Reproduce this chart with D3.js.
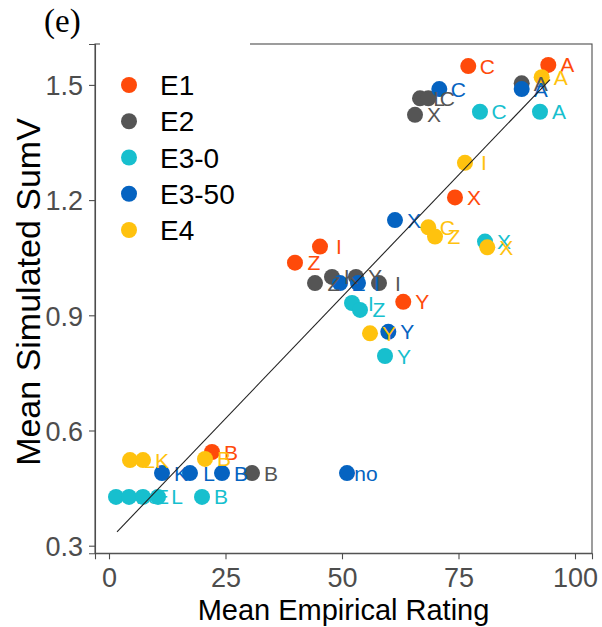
<!DOCTYPE html>
<html><head><meta charset="utf-8">
<script src="https://cdn.jsdelivr.net/npm/d3@7"></script>
<style>
html,body{margin:0;padding:0;background:#fff;}
svg{display:block;font-family:"Liberation Sans",Arial,sans-serif;}
</style></head>
<body><svg id="chart" width="602" height="627"></svg>
<script>
// ---- data ----
const groups = ["E1", "E2", "E3-0", "E3-50", "E4"];
const groupColors = ["#FF4A0A", "#555555", "#17BFCE", "#0563C1", "#FFC20E"];
const e1 = [["A",94.27,1.552],["C",77.10,1.549],["X",74.25,1.207],["I",45.28,1.079],["Z",39.91,1.037],["Y",63.15,0.935],["B",22.10,0.544]];
const e2 = [["A",88.56,1.504],["L",66.74,1.465],["C",68.52,1.465],["X",65.67,1.422],["Z",44.21,0.984],["K",47.85,1.000],["Y",53.00,1.000],["I",57.94,0.984],["B",30.69,0.489]];
const e30 = [["A",92.49,1.430],["C",79.61,1.430],["X",80.69,1.092],["I",52.15,0.932],["Z",53.86,0.914],["Y",59.23,0.794],["B",19.96,0.427],["L",10.52,0.427],["K",1.50,0.427],["no",4.29,0.427],["E",7.30,0.427]];
const e350 = [["A",88.56,1.489],["C",70.88,1.489],["X",61.37,1.148],["Z",49.57,0.984],["I",53.43,0.984],["Y",59.94,0.857],["K",11.37,0.489],["L",17.38,0.489],["B",24.25,0.489],["no",51.07,0.489]];
const e4 = [["A",92.85,1.520],["I",76.39,1.297],["C",68.52,1.129],["Z",69.96,1.105],["X",81.18,1.077],["Y",56.01,0.853],["B",20.60,0.526],["L",4.51,0.523],["K",7.30,0.523]];
const seriesData = [e1, e2, e30, e350, e4];
const fitLine = [[1.72, 0.336], [94.64, 1.514]];
const xTicks = [0, 25, 50, 75, 100];
const yTicks = [0.3, 0.6, 0.9, 1.2, 1.5];

// ---- layout ----
const svg = d3.select("#chart");
const L = 95, R = 592, T = 44, B = 553.3;
const x = d3.scaleLinear().domain([-3.004, 103.65]).range([L, R]);
const y = d3.scaleLinear().domain([0.2802, 1.6065]).range([B, T]);
const axisCol = "#4d4d4d";

// panel border
svg.append("rect").attr("x", L).attr("y", T).attr("width", R - L).attr("height", B - T)
  .attr("fill", "none").attr("stroke", axisCol).attr("stroke-width", 1.1);

// axes
const xAxis = svg.append("g").attr("transform", `translate(0,${B})`)
  .call(d3.axisBottom(x).tickValues(xTicks).tickSize(6).tickPadding(7).tickFormat(d3.format("d")));
const yAxis = svg.append("g").attr("transform", `translate(${L},0)`)
  .call(d3.axisLeft(y).tickValues(yTicks).tickSize(6).tickPadding(6).tickFormat(d3.format(".1f")));
[xAxis, yAxis].forEach(a => {
  a.select(".domain").attr("stroke", axisCol).attr("stroke-width", 1.1);
  a.selectAll(".tick line").attr("stroke", axisCol).attr("stroke-width", 1.1);
  a.selectAll(".tick text").attr("fill", axisCol).attr("font-size", 27)
    .attr("font-family", "Liberation Sans, Arial, sans-serif");
});
xAxis.selectAll(".tick text").attr("dy", null).attr("y", 34);
yAxis.selectAll(".tick text").attr("dy", "0.36em");

// points
const plot = svg.append("g");
seriesData.forEach((s, i) => {
  plot.append("g").selectAll("circle").data(s).join("circle")
    .attr("cx", d => x(d[1])).attr("cy", d => y(d[2])).attr("r", 8)
    .attr("fill", groupColors[i]);
});
// labels
seriesData.forEach((s, i) => {
  plot.append("g").selectAll("text").data(s).join("text")
    .attr("x", d => x(d[1]) + 19).attr("y", d => y(d[2]) + 7.5)
    .attr("text-anchor", "middle").attr("font-size", 21)
    .attr("fill", groupColors[i]).text(d => d[0]);
});
// fit line
svg.append("path").datum(fitLine)
  .attr("d", d3.line().x(d => x(d[0])).y(d => y(d[1])))
  .attr("stroke", "#222").attr("stroke-width", 1.1).attr("fill", "none");

// legend
const leg = svg.append("g");
leg.append("rect").attr("x", 100).attr("y", 40).attr("width", 150).attr("height", 212).attr("fill", "#fff");
groups.forEach((g, i) => {
  const cy = 85 + i * 36.25;
  leg.append("circle").attr("cx", 129).attr("cy", cy).attr("r", 8).attr("fill", groupColors[i]);
  leg.append("text").attr("x", 160).attr("y", cy + 10).attr("font-size", 28).attr("fill", "#000").text(g);
});

// titles
svg.append("text").attr("x", 343.5).attr("y", 620).attr("text-anchor", "middle")
  .attr("font-size", 29).attr("fill", "#000").text("Mean Empirical Rating");
svg.append("text").attr("transform", "translate(40,292) rotate(-90)").attr("text-anchor", "middle")
  .attr("font-size", 34).attr("fill", "#000").text("Mean Simulated SumV");
svg.append("text").attr("x", 44).attr("y", 32).attr("font-size", 33)
  .attr("font-family", "Liberation Serif, Times New Roman, serif").attr("fill", "#000").text("(e)");
</script></body></html>
